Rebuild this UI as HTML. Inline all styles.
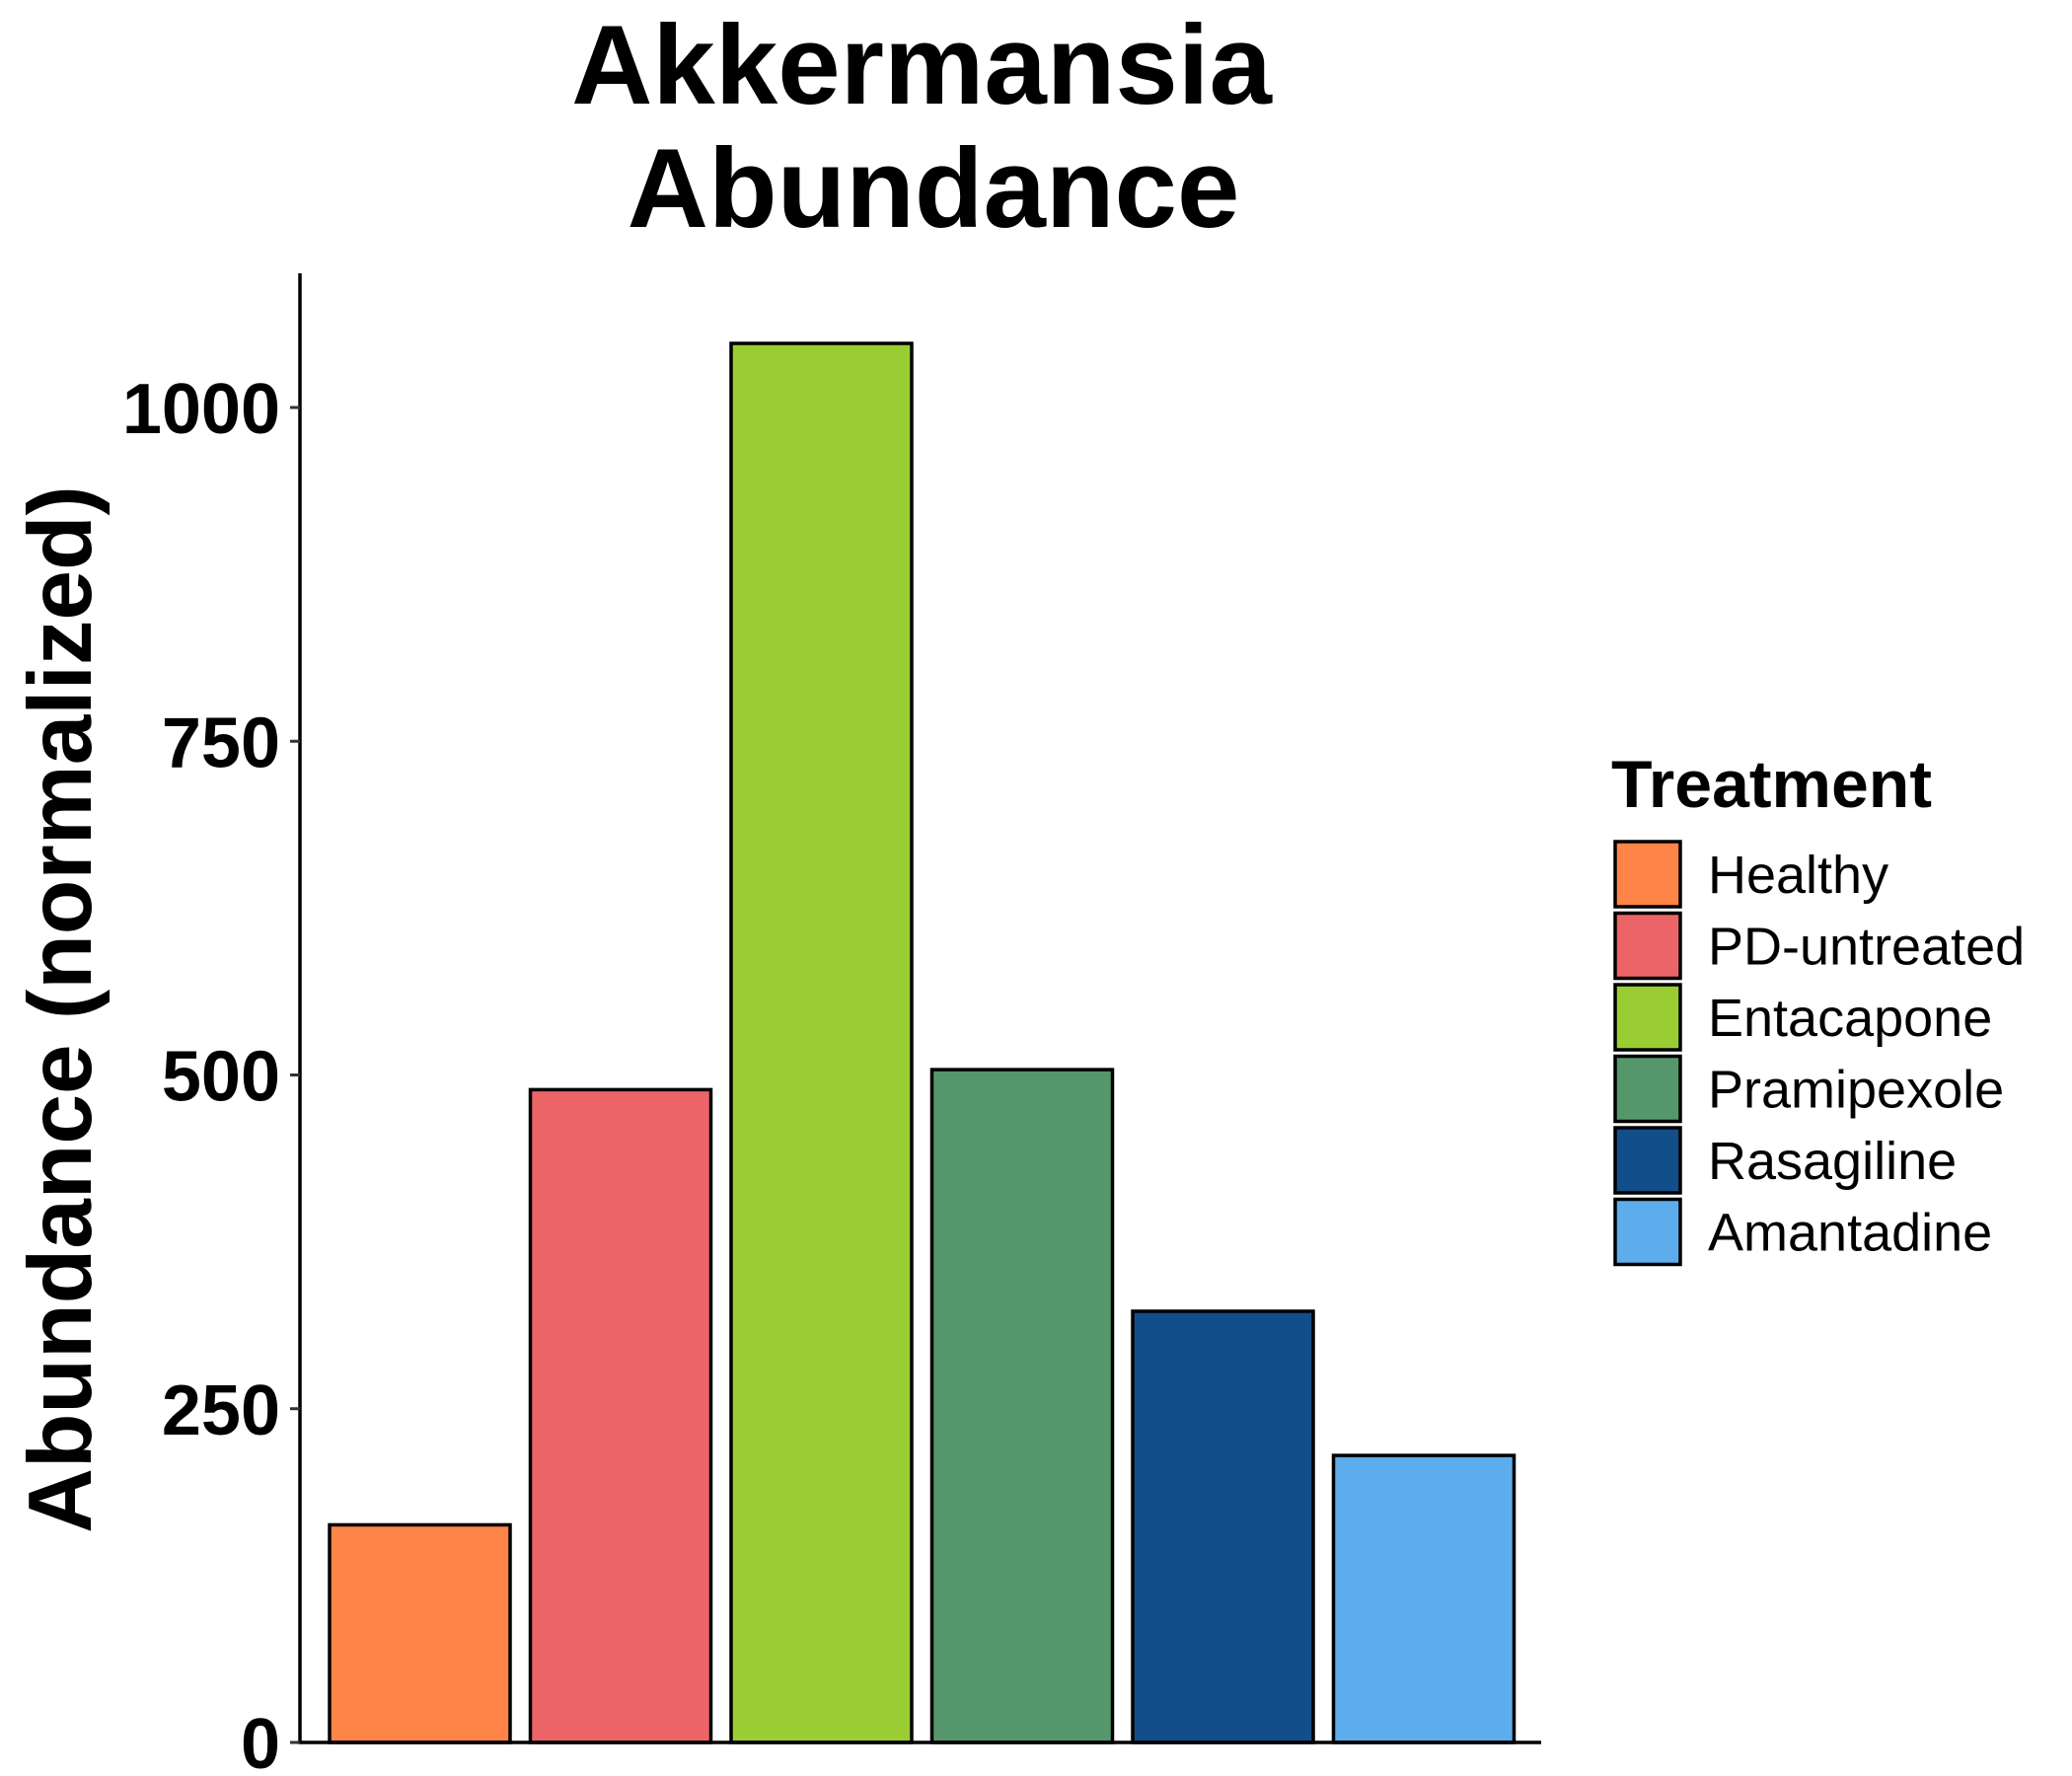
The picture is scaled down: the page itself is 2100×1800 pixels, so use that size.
<!DOCTYPE html>
<html><head><meta charset="utf-8"><style>
html,body{margin:0;padding:0;background:#fff;}
svg{display:block;font-family:"Liberation Sans",Arial,sans-serif;}
</style></head><body>
<svg id="chart" width="2100" height="1800" viewBox="0 0 2100 1800">
<text x="934" y="105" font-size="114" font-weight="bold" text-anchor="middle">Akkermansia</text>
<text x="946" y="230" font-size="114" font-weight="bold" text-anchor="middle">Abundance</text>
<text transform="translate(92,1023) rotate(-90)" font-size="91" font-weight="bold" text-anchor="middle">Abundance (normalized)</text>
<g id="bars"></g>
<g id="yaxis"></g>
<text x="1633" y="818" font-size="68" font-weight="bold">Treatment</text>
<g id="legend"></g>
</svg>
<script>
const categories = ["Healthy","PD-untreated","Entacapone","Pramipexole","Rasagiline","Amantadine"];
const values = [163, 489, 1048, 504, 323, 215];
const colors = ["#FF8447","#EC6467","#9ACD32","#55976A","#124F8A","#5DADEC"];
const yTicks = [0, 250, 500, 750, 1000];
const tickLabels = ["0","250","500","750","1000"];

const NS = "http://www.w3.org/2000/svg";
const svg = document.getElementById('chart');
const y0 = 1766, pxPerUnit = 1.353;
function y(v){ return y0 - v * pxPerUnit; }
const xStart = 334, step = 203.5, barW = 183;
function x(i){ return xStart + i * step; }
function mk(tag, attrs, parent){ const e = document.createElementNS(NS, tag); for (const k in attrs) e.setAttribute(k, attrs[k]); parent.appendChild(e); return e; }

const gb = document.getElementById('bars');
values.forEach((v, i) => {
  const r = mk('rect', {x: x(i), y: y(v), width: barW, height: y0 - y(v), fill: colors[i], stroke: '#000', 'stroke-width': 3.5}, gb);
  
  
});

const ga = document.getElementById('yaxis');
const yl = mk('line', {x1: 304, y1: 277, x2: 304, y2: y0 + 1.5, stroke: '#000', 'stroke-width': 3.5}, ga);


const xl = mk('line', {x1: 302, y1: y0, x2: 1562, y2: y0, stroke: '#000', 'stroke-width': 3.5}, ga);


yTicks.forEach((t, i) => {
  const tk = mk('line', {x1: 294, y1: y(t), x2: 304, y2: y(t), stroke: '#333', 'stroke-width': 3}, ga);
  
  
  const tx = mk('text', {x: 284, y: y(t) + 26, 'font-size': 72, 'font-weight': 'bold', 'text-anchor': 'end'}, ga);
  tx.textContent = tickLabels[i];
  
  
});

const gl = document.getElementById('legend');
categories.forEach((c, i) => {
  const top = 853 + i * 72.5;
  const k = mk('rect', {x: 1637, y: top, width: 66, height: 66, fill: colors[i], stroke: '#000', 'stroke-width': 3.5}, gl);
  
  
  const t = mk('text', {x: 1731, y: top + 52, 'font-size': 54}, gl);
  t.textContent = c;
  
  
});
</script>
</body></html>
